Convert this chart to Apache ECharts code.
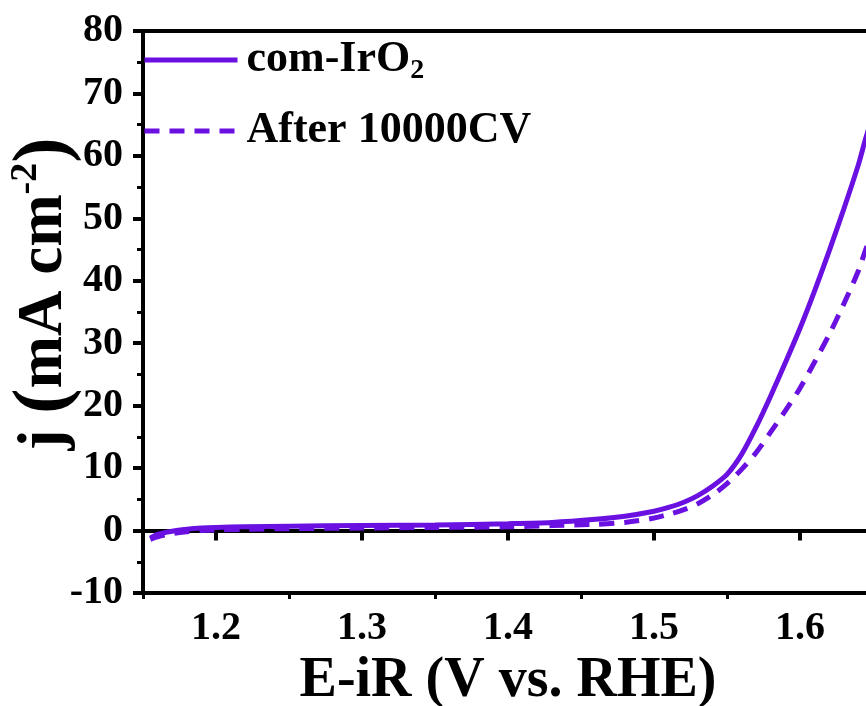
<!DOCTYPE html>
<html>
<head>
<meta charset="utf-8">
<script src="https://cdn.jsdelivr.net/npm/echarts@6/dist/echarts.min.js"></script>
<style>
  html, body { margin: 0; padding: 0; background: #fff; }
  #chart { width: 866px; height: 706px; }
</style>
</head>
<body>
<div id="chart"></div>
<script>
  // potential (V vs. RHE)
  const potential = [1.155, 1.16, 1.17, 1.18, 1.19, 1.20, 1.22, 1.25, 1.30, 1.35, 1.40, 1.43, 1.46, 1.48, 1.50,
    1.51, 1.52, 1.53, 1.54, 1.55, 1.56, 1.57, 1.58, 1.59, 1.60, 1.61, 1.62, 1.63, 1.64, 1.645, 1.65]
  // com-IrO2, solid
  const freshJ = [-1.2, -0.6, -0.1, 0.2, 0.4, 0.5, 0.6, 0.7, 0.8, 0.9, 1.1, 1.3, 1.8, 2.3, 3.1,
    3.7, 4.5, 5.6, 7.1, 9.0, 12.2, 16.6, 21.6, 26.9, 32.4, 38.4, 44.8, 51.5, 58.6, 62.8, 66.5]
  // after 10000 CV, dashed
  const cycledJ = [-1.4, -1.0, -0.5, -0.2, 0.0, 0.1, 0.2, 0.3, 0.4, 0.5, 0.6, 0.8, 1.0, 1.3, 2.0,
    2.6, 3.3, 4.3, 5.7, 7.5, 9.8, 12.5, 15.8, 19.2, 22.8, 27.0, 31.4, 36.3, 41.6, 45.0, 48.0]
  const majorX = [1.2, 1.3, 1.4, 1.5, 1.6]
  const minorX = [1.15, 1.25, 1.35, 1.45, 1.55, 1.65]
  const seriesNames = ['com-IrO2', 'After 10000CV']

  const lineColor = '#6a11e2'
  const font = 'Liberation Serif'

  function pairs(ys) {
    return potential.map(function (x, i) { return [x, ys[i]] })
  }

  // legend: line only, no symbol
  const legendBase = {
    left: 142, padding: 0,
    itemWidth: 93, itemHeight: 14, itemGap: 0,
    itemStyle: { color: 'transparent', borderColor: 'transparent', borderWidth: 0 },
    lineStyle: { width: 5 }
  }

  const chart = echarts.init(document.getElementById('chart'))
  chart.setOption({
    animation: false,
    backgroundColor: '#fff',
    grid: {
      left: 143, top: 31, right: -7, bottom: 113,
      outerBoundsMode: 'none',
      show: true, borderColor: '#000', borderWidth: 4, backgroundColor: 'transparent'
    },
    legend: [
      Object.assign({}, legendBase, {
        data: [seriesNames[0]],
        top: 38,
        formatter: function () { return '{a|com-IrO}{s|2}' },
        textStyle: {
          padding: [0, 0, 0, 4],
          rich: {
            a: { fontFamily: font, fontWeight: 'bold', fontSize: 44, color: '#000', lineHeight: 50 },
            s: { fontFamily: font, fontWeight: 'bold', fontSize: 28, color: '#000', lineHeight: 22, verticalAlign: 'bottom' }
          }
        }
      }),
      Object.assign({}, legendBase, {
        data: [seriesNames[1]],
        top: 106,
        textStyle: {
          fontFamily: font, fontWeight: 'bold', fontSize: 44, color: '#000',
          lineHeight: 50, padding: [0, 0, 0, 4]
        }
      })
    ],
    xAxis: [
      {
        type: 'value', min: 1.15, max: 1.65,
        name: 'E-iR (V vs. RHE)',
        nameLocation: 'middle', nameGap: 46,
        nameTextStyle: { fontFamily: font, fontWeight: 'bold', fontSize: 56, color: '#000' },
        axisLine: { show: true, lineStyle: { color: '#000', width: 4 } },
        axisTick: { show: true, customValues: majorX, length: 10, lineStyle: { color: '#000', width: 4 } },
        axisLabel: {
          customValues: majorX, margin: 16,
          fontFamily: font, fontWeight: 'bold', fontSize: 40, color: '#000',
          formatter: function (v) { return v.toFixed(1) }
        },
        splitLine: { show: false }
      },
      {
        type: 'value', min: 1.15, max: 1.65, position: 'bottom',
        axisLine: { show: false },
        axisTick: { show: true, customValues: minorX, length: 6, lineStyle: { color: '#000', width: 3 } },
        axisLabel: { show: false },
        splitLine: { show: false }
      }
    ],
    yAxis: {
      type: 'value', min: -10, max: 80, interval: 10,
      name: '{j|j }{p|(}{t|mA cm}{sup|-2}{p|)}',
      nameLocation: 'middle', nameGap: 60,
      nameMoveOverlap: false,
      nameTextStyle: {
        padding: [0, 0, 0, 36],
        rich: {
          j: { fontFamily: font, fontWeight: 'bold', fontSize: 63, color: '#000' },
          p: { fontFamily: font, fontWeight: 'bold', fontSize: 76, color: '#000' },
          t: { fontFamily: font, fontWeight: 'bold', fontSize: 63, color: '#000' },
          sup: { fontFamily: font, fontWeight: 'bold', fontSize: 38, color: '#000', verticalAlign: 'top', lineHeight: 44 }
        }
      },
      axisLine: { show: true, lineStyle: { color: '#000', width: 4 } },
      axisTick: { show: true, length: 10, lineStyle: { color: '#000', width: 4 } },
      minorTick: { show: true, splitNumber: 2, length: 6, lineStyle: { color: '#000', width: 3 } },
      axisLabel: { margin: 20, fontFamily: font, fontWeight: 'bold', fontSize: 40, color: '#000' },
      splitLine: { show: false }
    },
    series: [
      {
        name: seriesNames[1],
        type: 'line',
        data: pairs(cycledJ),
        symbol: 'none',
        smooth: 0.3,
        color: lineColor,
        lineStyle: { color: lineColor, width: 5, type: [15, 10] }
      },
      {
        name: seriesNames[0],
        type: 'line',
        data: pairs(freshJ),
        symbol: 'none',
        smooth: 0.3,
        color: lineColor,
        lineStyle: { color: lineColor, width: 5 }
      }
    ]
  })
</script>
</body>
</html>
